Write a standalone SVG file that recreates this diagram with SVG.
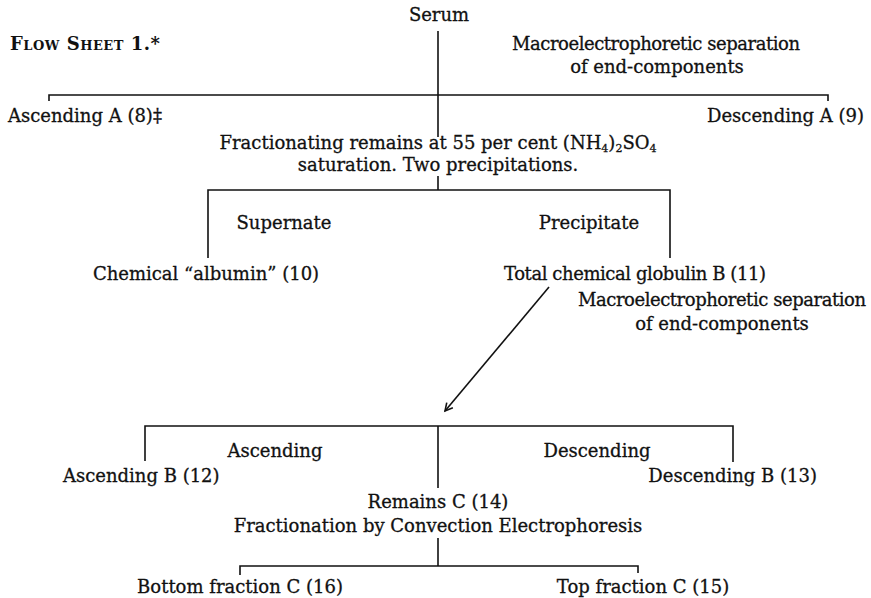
<svg xmlns="http://www.w3.org/2000/svg" width="871" height="598" viewBox="0 0 871 598">
<style>
  text { font-family: "DejaVu Serif", "Liberation Serif", serif; font-size: 18px; fill: #111; stroke: #111; stroke-width: 0.3; }
  .c { text-anchor: middle; }
  .r { text-anchor: end; }
  .sc { font-variant: small-caps; font-weight: bold; stroke-width: 0; }
  .ln { fill: none; stroke: #111; stroke-width: 1.6; }
  .sub { font-size: 11px; }
</style>
<defs>
  <marker id="ah" markerWidth="14" markerHeight="14" refX="11" refY="7" orient="auto" markerUnits="userSpaceOnUse">
    <path d="M3.5,3 L11,7 L3.5,11" fill="none" stroke="#111" stroke-width="1.6"/>
  </marker>
</defs>
<rect width="871" height="598" fill="#fff"/>
<g id="connectors">
  <line class="ln" x1="438" y1="31" x2="438" y2="137"/>
  <path class="ln" d="M49,101 V95 H828 V101"/>
  <line class="ln" x1="438" y1="176" x2="438" y2="190"/>
  <path class="ln" d="M208,258 V190 H670 V258"/>
  <line class="ln" x1="549" y1="287" x2="445" y2="411" marker-end="url(#ah)"/>
  <path class="ln" d="M145,461 V426 H733 V462"/>
  <line class="ln" x1="438" y1="426" x2="438" y2="488"/>
  <line class="ln" x1="438" y1="538" x2="438" y2="566"/>
  <path class="ln" d="M240,575 V566 H638 V573"/>
</g>
<g id="title"><text class="sc" x="10" y="50" textLength="150">Flow Sheet 1.*</text></g>
<g id="serum"><text class="c" x="439" y="21">Serum</text></g>
<g id="label-macro1">
  <text class="c" x="656" y="50" textLength="288">Macroelectrophoretic separation</text>
  <text class="c" x="657" y="73">of end-components</text>
</g>
<g id="ascA"><text x="8" y="122">Ascending A (8)‡</text></g>
<g id="descA"><text class="r" x="864" y="122">Descending A (9)</text></g>
<g id="fractionating">
  <text class="c" x="438" y="149">Fractionating remains at 55 per cent (NH<tspan class="sub" dy="3">4</tspan><tspan dy="-3">)</tspan><tspan class="sub" dy="3">2</tspan><tspan dy="-3">SO</tspan><tspan class="sub" dy="3">4</tspan></text>
  <text class="c" x="438" y="171">saturation. Two precipitations.</text>
</g>
<g id="label-supernate"><text class="c" x="284" y="229">Supernate</text></g>
<g id="label-precipitate"><text class="c" x="589" y="229">Precipitate</text></g>
<g id="albumin"><text class="c" x="206" y="280">Chemical “albumin” (10)</text></g>
<g id="globulin"><text class="c" x="635" y="280" textLength="262">Total chemical globulin B (11)</text></g>
<g id="label-macro2">
  <text class="c" x="722" y="306" textLength="288">Macroelectrophoretic separation</text>
  <text class="c" x="722" y="330">of end-components</text>
</g>
<g id="label-ascending"><text class="c" x="275" y="457">Ascending</text></g>
<g id="label-descending"><text class="c" x="597" y="457">Descending</text></g>
<g id="ascB"><text x="63" y="482">Ascending B (12)</text></g>
<g id="descB"><text class="r" x="817" y="482">Descending B (13)</text></g>
<g id="remainsC">
  <text class="c" x="438" y="508">Remains C (14)</text>
  <text class="c" x="438" y="532">Fractionation by Convection Electrophoresis</text>
</g>
<g id="bottomC"><text class="c" x="240" y="593">Bottom fraction C (16)</text></g>
<g id="topC"><text class="c" x="643" y="593">Top fraction C (15)</text></g>
</svg>
